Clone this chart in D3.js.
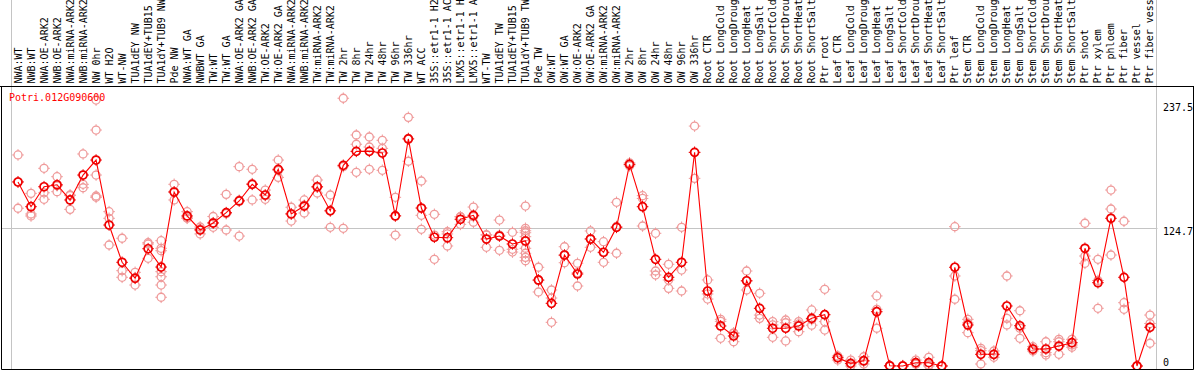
<!DOCTYPE html>
<html>
<head>
<meta charset="utf-8">
<script src="https://cdn.jsdelivr.net/npm/d3@7"></script>
<style>
  body { margin: 0; background: #fff; }
  svg { display: block; }
  text { font-family: "DejaVu Sans Mono", monospace; font-size: 10px; }
</style>
</head>
<body>
<svg id="root"></svg>
<script>
const geneId = "Potri.012G090600";

const samples = [
  "NWA:WT", "NWB:WT", "NWA:OE-ARK2", "NWB:OE-ARK2", "NWA:miRNA-ARK2", "NWB:miRNA-ARK2",
  "NW 0hr", "WT H2O", "WT-NW", "TUA1dEY NW", "TUA1dEY+TUB15 NW", "TUA1dY+TUB9 NW", "Pde NW",
  "NWA:WT GA", "NWBWT GA", "TW:WT", "TW:WT GA", "NWA:OE-ARK2 GA", "NWB:OE-ARK2 GA",
  "TW:OE-ARK2", "TW:OE-ARK2 GA", "NWA:miRNA-ARK2 GA", "NWB:miRNA-ARK2 GA", "TW:miRNA-ARK2",
  "TW:miRNA-ARK2 GA", "TW 2hr", "TW 8hr", "TW 24hr", "TW 48hr", "TW 96hr", "TW 336hr",
  "WT ACC", "35S::etr1-1 H2O", "35S::etr1-1 ACC", "LMX5::etr1-1 H2O", "LMX5::etr1-1 ACC",
  "WT-TW", "TUA1dEY TW", "TUA1dEY+TUB15 TW", "TUA1dY+TUB9 TW", "Pde TW",
  "OW:WT", "OW:WT GA", "OW:OE-ARK2", "OW:OE-ARK2 GA", "OW:miRNA-ARK2", "OW:miRNA-ARK2 GA",
  "OW 2hr", "OW 8hr", "OW 24hr", "OW 48hr", "OW 96hr", "OW 336hr",
  "Root CTR", "Root LongCold", "Root LongDrought", "Root LongHeat", "Root LongSalt",
  "Root ShortCold", "Root ShortDrought", "Root ShortHeat", "Root ShortSalt", "Ptr root",
  "Leaf CTR", "Leaf LongCold", "Leaf LongDrought", "Leaf LongHeat", "Leaf LongSalt",
  "Leaf ShortCold", "Leaf ShortDrought", "Leaf ShortHeat", "Leaf ShortSalt", "Ptr leaf",
  "Stem CTR", "Stem LongCold", "Stem LongDrought", "Stem LongHeat", "Stem LongSalt",
  "Stem ShortCold", "Stem ShortDrought", "Stem ShortHeat", "Stem ShortSalt", "Ptr shoot",
  "Ptr xylem", "Ptr phloem", "Ptr fiber", "Ptr vessel", "Ptr fiber vessel"
];

// number of samples in each block between the grey separators
const groupSizes = [13, 28, 12, 10, 10, 11, 1, 1, 1, 1];

const means = [
  166.8, 144.4, 162.5, 164.3, 150.5, 173.1, 186.7, 127.8, 94.0, 79.5, 106.3, 89.7, 157.7,
  136.0, 123.3, 129.6, 139.0, 149.6, 164.7, 155.0, 178.3, 137.8, 145.0, 162.5, 140.6,
  181.9, 194.6, 194.6, 193.1, 136.0, 205.8, 143.2, 116.7, 116.3, 133.0, 136.6,
  115.1, 117.8, 110.6, 113.3, 78.0,
  56.8, 100.6, 83.4, 115.1, 103.1, 125.7, 182.8, 144.4, 96.7, 80.4, 94.0, 193.7,
  68.0, 36.3, 27.2, 77.3, 52.3, 34.2, 34.2, 36.3, 43.2, 46.5,
  7.5, 2.4, 4.8, 49.2, 0.2, 0, 3.0, 3.0, 0, 89.5,
  37.2, 10.6, 10.6, 54.4, 36.5, 15.4, 15.4, 18.1, 21.1, 106.7, 75.5,
  133.9, 80.4, 0, 35.1
];

const replicates = [
  [191.3, 167, 143.0], [156.5, 137.8, 136.0], [179.2, 157, 151.1], [171.6, 163.4, 158.0],
  [155, 154.5, 142], [192.2, 164.7, 161.6], [241.1, 213.9, 173.1, 154.1, 152.9],
  [139.9, 133.9, 109.7], [115.8, 86.4, 80.4], [84.9, 80.2, 73.4], [111.8, 110.6, 97.6],
  [113.6, 106.7, 104.5, 85.5, 80.9, 73.4, 62.3], [164.7, 157.9, 150.5],
  [139.9, 134.2, 133.9], [126.0, 124.2, 119.7], [135.5, 129.9, 125.7], [155.6, 138.1, 123.3],
  [180.7, 150.3, 117.8], [178.3, 165.3, 150.5], [159.5, 154.4, 151.1], [186.7, 177.2, 171.0],
  [143.9, 138.1, 131.4], [150.5, 145.8, 138.7], [168.6, 162.1, 156.8], [155.0, 141.1, 125.7],
  [242.7, 180.7, 124.8], [209.4, 201.0, 175.6], [207.6, 198.5, 178.3], [204.6, 197.3, 177.4],
  [152.9, 136.4, 118.7], [225.4, 206.4, 185.6], [167.7, 136.6, 123.9], [137.5, 118.7, 96.7],
  [121.7, 119.7, 108.8], [135.3, 135.3, 128.4], [144.1, 135.4, 130.3], [118.7, 119, 107.6],
  [132.3, 118.7, 104.9], [121.2, 105.8, 103.3],
  [145.0, 124.8, 122.6, 120.8, 117.2, 106.7, 102.2, 98.5, 95.4], [89.5, 77.4, 67.1],
  [68.9, 61.6, 39.6], [108.1, 100.1, 93.6], [93.1, 84.6, 72.5], [122.4, 115.3, 107.6],
  [112.7, 102.6, 94.0], [148.4, 126.5, 102.2], [184.2, 182.8, 181.4], [154.4, 151.9, 126.9],
  [120.3, 86.1, 82.5], [92.2, 78.0, 70.4], [125.7, 87.0, 68.0], [217.5, 193.5, 170.1],
  [78.0, 65.3, 60.7], [42.3, 40.5, 25.1], [30.0, 29.6, 22.0], [86.1, 76.9, 68.9],
  [65.9, 46.2, 43.2], [40.2, 37.2, 26.0], [41.7, 39.2, 22.7], [40.2, 38.1, 31.1],
  [50.8, 42.0, 37.0], [69.5, 40.2, 32.6],
  [9.1, 8.0, 5.4], [5.4, 1.8, 0], [8.4, 4.2, 1.8], [63.5, 51.4, 34.2], [0.5, 0.1, 0],
  [0.4, 0, 0], [5.4, 1.8, 1.8], [7.9, 1.0, 0], [0.3, 0, 0], [126.3, 81.6, 60.5],
  [42.3, 39.0, 30.2], [16.0, 13.9, 1.8], [13.6, 10.3, 7.9], [81.6, 43.2, 37.2],
  [50.1, 34.3, 25.1], [17.5, 15.0, 13.6], [22.0, 12.1, 10.0], [24.2, 22.0, 10.6],
  [24.2, 19.0, 17.0], [129.4, 99.7, 93.1], [96.7, 77.5, 52.3],
  [159.5, 142.3, 100.6], [131.2, 57.4, 51.4], [0, 0, 0], [46.2, 38.5, 20.6]
];

const yTicks = [0, 124.7, 237.5];

const width = 1194;
const height = 370;
const plotTop = 86;
const plotBottom = 369;
const plotLeft = 1;
const plotRight = 1193;

const svg = d3.select("#root").attr("width", width).attr("height", height);

const x = d3.scaleBand()
  .domain(d3.range(samples.length))
  .range([11.5, 1156.5]);
const cx = i => x(i) + x.bandwidth() / 2;

const y = d3.scaleLinear()
  .domain([0, 237.5])
  .range([366, 104]);

svg.append("defs").append("clipPath").attr("id", "plotClip")
  .append("rect")
  .attr("x", plotLeft).attr("y", plotTop)
  .attr("width", plotRight - plotLeft).attr("height", plotBottom - plotTop);

// group separators (full height, through the label strip)
const edges = [0].concat(d3.cumsum(groupSizes));
const edgeX = d => Math.floor(d < samples.length ? x(d) : x.range()[1]) + 0.5;
svg.append("g")
  .selectAll("line")
  .data(edges)
  .enter()
  .append("line")
  .attr("x1", edgeX)
  .attr("x2", edgeX)
  .attr("y1", 0)
  .attr("y2", plotBottom)
  .attr("stroke", "#c4c4c4")
  .attr("stroke-width", 1);

// horizontal guide for the inner tick
svg.append("g")
  .selectAll("line")
  .data(yTicks.filter(v => v > 0 && v < d3.max(yTicks)))
  .enter()
  .append("line")
  .attr("x1", plotLeft)
  .attr("x2", x.range()[1] + 1)
  .attr("y1", d => Math.round(y(d)) + 0.5)
  .attr("y2", d => Math.round(y(d)) + 0.5)
  .attr("stroke", "#c4c4c4");

// sample labels, rotated
svg.append("g")
  .selectAll("text")
  .data(samples)
  .enter()
  .append("text")
  .attr("transform", (d, i) => `translate(${cx(i)}, ${plotTop - 2.5}) rotate(-90)`)
  .attr("dy", "0.35em")
  .attr("fill", "#000")
  .text(d => d);

// frame
svg.append("path")
  .attr("d", `M0,${plotTop + 0.5}H${width}M${plotLeft + 0.5},${plotTop}V${plotBottom + 0.5}H${plotRight + 0.5}V${plotTop}`)
  .attr("fill", "none")
  .attr("stroke", "#000");

const plot = svg.append("g").attr("clip-path", "url(#plotClip)");

const marker = (g, r, color, sw) => {
  g.append("circle").attr("r", r).attr("fill", "none").attr("stroke", color).attr("stroke-width", sw);
  g.append("path")
    .attr("d", `M0,${-r - 1.8}V${-r}M0,${r}V${r + 1.8}M${-r - 1.8},0H${-r}M${r},0H${r + 1.8}`)
    .attr("stroke", color).attr("stroke-width", 1);
};

// replicate points
const repPoints = replicates.flatMap((reps, i) => reps.map(v => ({ i, v })));
plot.append("g")
  .selectAll("g")
  .data(repPoints)
  .enter()
  .append("g")
  .attr("transform", d => `translate(${cx(d.i)}, ${y(d.v)})`)
  .each(function () { marker(d3.select(this), 4, "#ef9a9a", 1.3); });

// mean line
const line = d3.line()
  .x((d, i) => cx(i))
  .y(d => y(d));
plot.append("path")
  .attr("d", line(means))
  .attr("fill", "none")
  .attr("stroke", "#ff0000")
  .attr("stroke-width", 1.1);

// mean points
plot.append("g")
  .selectAll("g")
  .data(means)
  .enter()
  .append("g")
  .attr("transform", (d, i) => `translate(${cx(i)}, ${y(d)})`)
  .each(function () { marker(d3.select(this), 4, "#ee0000", 1.7); });

// gene name
svg.append("text")
  .attr("x", 9)
  .attr("y", 100.5)
  .attr("fill", "#ff0000")
  .text(geneId);

// y tick labels on the right
svg.append("g")
  .selectAll("text")
  .data(yTicks)
  .enter()
  .append("text")
  .attr("x", 1163)
  .attr("y", d => Math.min(y(d) + 3, plotBottom - 7))
  .attr("dy", "0.35em")
  .attr("fill", "#000")
  .text(d => d);
</script>
</body>
</html>
